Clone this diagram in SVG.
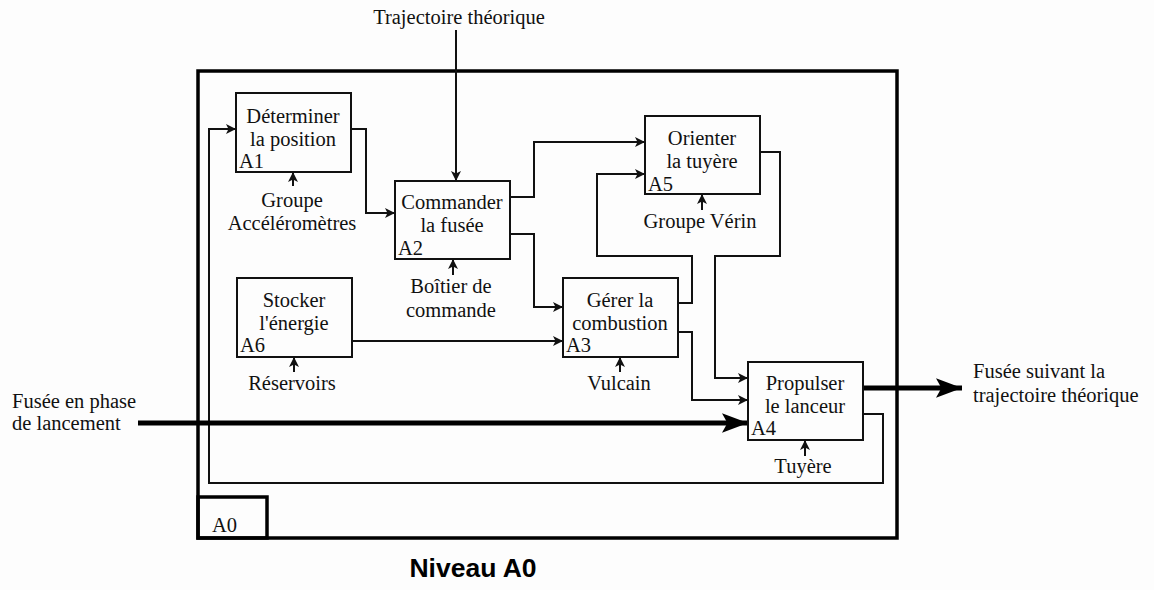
<svg xmlns="http://www.w3.org/2000/svg" width="1154" height="590" viewBox="0 0 1154 590">
<style>
.bg{fill:#fdfdfd}
.box{fill:none;stroke:#111;stroke-width:2}
.frame{fill:none;stroke:#000;stroke-width:3.5}
.t{font-family:"Liberation Serif","DejaVu Serif",serif;font-size:20.5px;fill:#111}
.c{text-anchor:middle}
.ln{fill:none;stroke:#111;stroke-width:2}
.thick{fill:none;stroke:#000;stroke-width:5}
.title{font-family:"Liberation Sans",Arial,sans-serif;font-size:26.5px;font-weight:bold;fill:#000;text-anchor:middle}
</style>
<defs>
<marker id="a" viewBox="0 0 10 10" refX="10" refY="5" markerWidth="10" markerHeight="10" markerUnits="userSpaceOnUse" orient="auto">
<path d="M0,0 L10,5 L0,10 L2.5,5 z" fill="#111"/>
</marker>
<marker id="big" viewBox="0 0 24 18" refX="24" refY="9" markerWidth="26" markerHeight="20" markerUnits="userSpaceOnUse" orient="auto">
<path d="M0,0 L24,9 L0,18 L5,9 z" fill="#000"/>
</marker>
</defs>
<rect class="bg" width="1154" height="590"/>
<g id="frame">
<rect class="frame" x="198" y="71" width="699" height="467"/>
<rect class="frame" x="198" y="497" width="69" height="41"/>
<text class="t" x="212" y="532">A0</text>
</g>
<g id="connectors">
<path class="ln" d="M456,30 V181" marker-end="url(#a)"/>
<path class="ln" d="M351,129 H366 V213 H395" marker-end="url(#a)"/>
<path class="ln" d="M510,197 H534 V142 H645" marker-end="url(#a)"/>
<path class="ln" d="M510,234 H534 V307 H563" marker-end="url(#a)"/>
<path class="ln" d="M352,341 H563" marker-end="url(#a)"/>
<path class="ln" d="M678,303 H692 V256 H597 V174 H645" marker-end="url(#a)"/>
<path class="ln" d="M678,332 H692 V400 H748" marker-end="url(#a)"/>
<path class="ln" d="M760,152 H780 V256 H715 V378 H748" marker-end="url(#a)"/>
<path class="ln" d="M863,414 H883 V483 H209 V129 H236" marker-end="url(#a)"/>
<path class="thick" d="M138,423 H748" marker-end="url(#big)"/>
<path class="thick" d="M863,388 H962" marker-end="url(#big)"/>
<path class="ln" d="M293,186 V172" marker-end="url(#a)"/>
<path class="ln" d="M453,275 V259" marker-end="url(#a)"/>
<path class="ln" d="M702,210 V194" marker-end="url(#a)"/>
<path class="ln" d="M294,372 V357" marker-end="url(#a)"/>
<path class="ln" d="M620,372 V357" marker-end="url(#a)"/>
<path class="ln" d="M805,456 V440" marker-end="url(#a)"/>
</g>
<g id="A1">
<rect class="box" x="236" y="93" width="115" height="79"/>
<text class="t c" x="293" y="123">Déterminer</text>
<text class="t c" x="293" y="146">la position</text>
<text class="t" x="239" y="168">A1</text>
<text class="t c" x="292" y="207">Groupe</text>
<text class="t c" x="292" y="230">Accéléromètres</text>
</g>
<g id="A2">
<rect class="box" x="395" y="181" width="115" height="78"/>
<text class="t c" x="452" y="209">Commander</text>
<text class="t c" x="452" y="232">la fusée</text>
<text class="t" x="398" y="255">A2</text>
<text class="t c" x="451" y="293">Boîtier de</text>
<text class="t c" x="451" y="317">commande</text>
</g>
<g id="A5">
<rect class="box" x="645" y="116" width="115" height="78"/>
<text class="t c" x="702" y="145">Orienter</text>
<text class="t c" x="702" y="168">la tuyère</text>
<text class="t" x="648" y="191">A5</text>
<text class="t c" x="700" y="228">Groupe Vérin</text>
</g>
<g id="A6">
<rect class="box" x="237" y="278" width="115" height="79"/>
<text class="t c" x="294" y="307">Stocker</text>
<text class="t c" x="294" y="330">l'énergie</text>
<text class="t" x="240" y="352">A6</text>
<text class="t c" x="292" y="390">Réservoirs</text>
</g>
<g id="A3">
<rect class="box" x="563" y="278" width="115" height="79"/>
<text class="t c" x="620" y="307">Gérer la</text>
<text class="t c" x="620" y="330">combustion</text>
<text class="t" x="566" y="352">A3</text>
<text class="t c" x="619" y="390">Vulcain</text>
</g>
<g id="A4">
<rect class="box" x="748" y="362" width="115" height="78"/>
<text class="t c" x="805" y="390">Propulser</text>
<text class="t c" x="805" y="413">le lanceur</text>
<text class="t" x="751" y="435">A4</text>
<text class="t c" x="803" y="473">Tuyère</text>
</g>
<g id="labels">
<text class="t c" x="459" y="24">Trajectoire théorique</text>
<text class="t" x="12" y="408">Fusée en phase</text>
<text class="t" x="12" y="430">de lancement</text>
<text class="t" x="973" y="378">Fusée suivant la</text>
<text class="t" x="973" y="402">trajectoire théorique</text>
<text class="title" x="473" y="577">Niveau A0</text>
</g>
</svg>
